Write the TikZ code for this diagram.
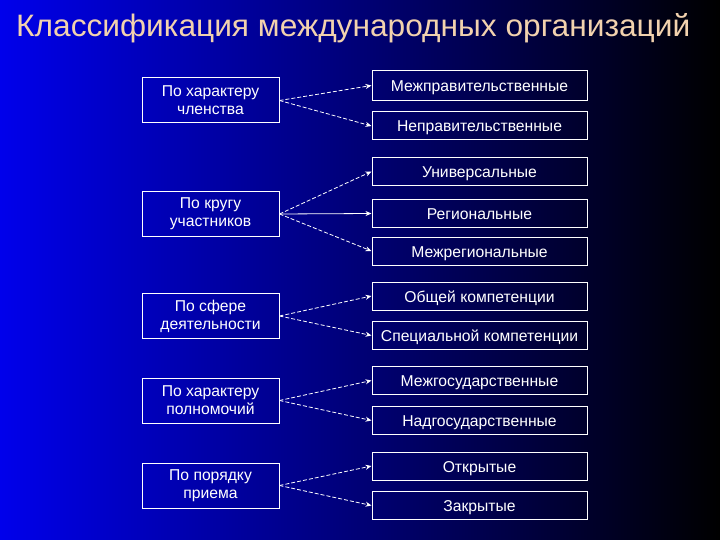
\documentclass[tikz,border=0pt]{standalone}
\usepackage{fontspec}
\setmainfont{Liberation Sans}
\usepackage{graphicx}
\usepackage{xcolor}
\definecolor{slideblue}{RGB}{0,0,235}
\definecolor{titlepeach}{RGB}{242,210,174}
\usetikzlibrary{arrows.meta}
\tikzset{
  >={Stealth[length=6pt,width=5pt]},
  crit/.style={rectangle,draw=white,line width=1pt,text=white,align=center,minimum width=137pt,minimum height=45pt,font=\fontsize{15.7}{18}\selectfont},
  kind/.style={rectangle,draw=white,line width=1pt,text=white,minimum width=215pt,minimum height=28pt,text height=12pt,text depth=0pt,font=\fontsize{15.7}{18}\selectfont},
  link/.style={->,draw=white,line width=0.8pt,dash pattern=on 4pt off 2pt},
  solidlink/.style={->,draw=white,line width=0.8pt}
}

\begin{document}
\begin{tikzpicture}[x=1pt,y=-1pt]
  \shade[left color=slideblue,right color=black] (0,0) rectangle (720,540);
  \useasboundingbox (0,0) rectangle (720,540);

  \node[anchor=base west,inner sep=0pt,text=titlepeach] (title) at (16,37)
    {\resizebox{674pt}{\height}{\fontsize{31}{36}\selectfont Классификация международных организаций}};

  % criteria
  \node[crit] (member) at (210.5,100.5) {По характеру\\членства};
  \node[crit] (circle) at (210.5,214) {По кругу\\участников};
  \node[crit] (sphere) at (210.5,316) {По сфере\\деятельности};
  \node[crit] (power) at (210.5,400.5) {По характеру\\полномочий};
  \node[crit] (admit) at (210.5,485.5) {По порядку\\приема};

  % kinds
  \node[kind,minimum height=30pt] (intergov) at (479.5,85.5) {Межправительственные};
  \node[kind] (nongov) at (479.5,126) {Неправительственные};
  \node[kind] (univ) at (479.5,171.5) {Универсальные};
  \node[kind] (region) at (479.5,213.5) {Региональные};
  \node[kind] (interreg) at (479.5,251) {Межрегиональные};
  \node[kind] (general) at (479.5,296) {Общей компетенции};
  \node[kind] (special) at (479.5,335.5) {Специальной компетенции};
  \node[kind] (interstate) at (479.5,380.5) {Межгосударственные};
  \node[kind] (suprastate) at (479.5,420.5) {Надгосударственные};
  \node[kind] (open) at (479.5,466) {Открытые};
  \node[kind] (closed) at (479.5,505.5) {Закрытые};

  \draw[link] (member.east) -- (intergov.west);
  \draw[link] (member.east) -- (nongov.west);
  \draw[link] (circle.east) -- (univ.west);
  \draw[solidlink] (circle.east) -- (region.west);
  \draw[link] (circle.east) -- (interreg.west);
  \draw[link] (sphere.east) -- (general.west);
  \draw[link] (sphere.east) -- (special.west);
  \draw[link] (power.east) -- (interstate.west);
  \draw[link] (power.east) -- (suprastate.west);
  \draw[link] (admit.east) -- (open.west);
  \draw[link] (admit.east) -- (closed.west);
\end{tikzpicture}
\end{document}
